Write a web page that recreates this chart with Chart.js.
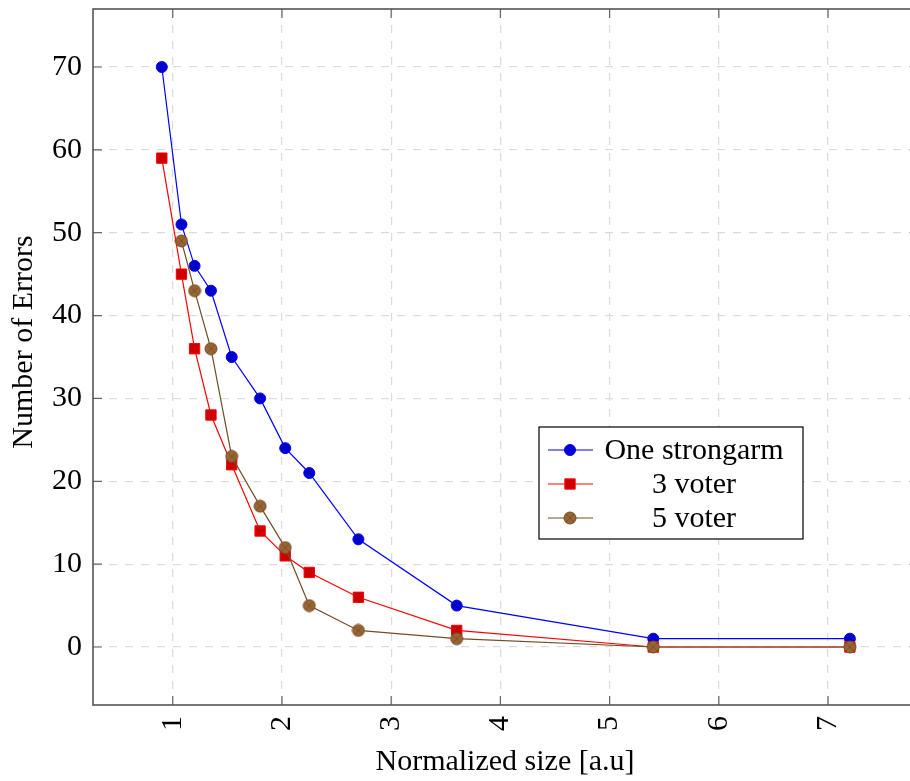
<!DOCTYPE html>
<html>
<head>
<meta charset="utf-8">
<script src="https://cdn.jsdelivr.net/npm/chart.js@4"></script>
<style>
  html, body { margin: 0; padding: 0; background: #fff; overflow: hidden; }
  #wrap { width: 910px; height: 781px; overflow: hidden; }
</style>
</head>
<body>
<div id="wrap"><canvas id="errChart" width="927" height="781"></canvas></div>
<script>
// --- data ---
const xValues = [0.9, 1.08, 1.2, 1.35, 1.54, 1.8, 2.03, 2.25, 2.7, 3.6, 5.4, 7.2];
const strongarm = [70, 51, 46, 43, 35, 30, 24, 21, 13, 5, 1, 1];
const voter3 = [59, 45, 36, 28, 22, 14, 11, 9, 6, 2, 0, 0];
const voter5 = [null, 49, 43, 36, 23, 17, 12, 5, 2, 1, 0, 0];
const xTicks = [1, 2, 3, 4, 5, 6, 7];
const yTicks = [0, 10, 20, 30, 40, 50, 60, 70];
const labels = ['One strongarm', '3 voter', '5 voter'];

const FONT = '"Liberation Serif", "Times New Roman", serif';

// otimes* marker for the brown series
function makeOtimes() {
    const c = document.createElement('canvas');
    c.width = 14; c.height = 14;
    const g = c.getContext('2d');
    g.beginPath();
    g.arc(7, 7, 6, 0, Math.PI * 2);
    g.fillStyle = '#996633';
    g.fill();
    g.lineWidth = 1;
    g.strokeStyle = '#734d26';
    g.stroke();
    const d = 6 * Math.SQRT1_2;
    g.beginPath();
    g.moveTo(7 - d, 7 - d); g.lineTo(7 + d, 7 + d);
    g.moveTo(7 + d, 7 - d); g.lineTo(7 - d, 7 + d);
    g.lineWidth = 0.8;
    g.stroke();
    return c;
}
const otimes = makeOtimes();

const toPoints = ys => xValues.map((x, i) => ({ x: x, y: ys[i] }));

// frame, inner ticks and axis titles
const framePlugin = {
    id: 'frame',
    beforeDatasetsDraw(chart) {
        const { ctx, chartArea: a, scales } = chart;
        ctx.save();
        ctx.strokeStyle = '#666';
        ctx.lineWidth = 1.2;
        ctx.beginPath();
        xTicks.forEach(v => {
            const px = scales.x.getPixelForValue(v);
            ctx.moveTo(px, a.bottom); ctx.lineTo(px, a.bottom - 9);
            ctx.moveTo(px, a.top); ctx.lineTo(px, a.top + 9);
        });
        yTicks.forEach(v => {
            const py = scales.y.getPixelForValue(v);
            ctx.moveTo(a.left, py); ctx.lineTo(a.left + 9, py);
            ctx.moveTo(a.right, py); ctx.lineTo(a.right - 9, py);
        });
        ctx.stroke();
        ctx.strokeStyle = '#555';
        ctx.lineWidth = 1.6;
        ctx.strokeRect(a.left, a.top, a.right - a.left, a.bottom - a.top);
        ctx.restore();
    },
    afterDraw(chart) {
        const { ctx } = chart;
        ctx.save();
        ctx.fillStyle = '#000';
        ctx.font = '30px ' + FONT;
        ctx.textAlign = 'center';
        ctx.textBaseline = 'middle';
        ctx.fillText('Normalized size [a.u]', 505, 762);
        ctx.translate(24, 342);
        ctx.rotate(-Math.PI / 2);
        ctx.fillText('Number of Errors', 0, 0);
        ctx.restore();
    }
};

// legend box inside the plot
const legendPlugin = {
    id: 'boxLegend',
    afterDraw(chart) {
        const ctx = chart.ctx;
        const box = { left: 539, top: 427, right: 803, bottom: 539 };
        const rows = [450, 484, 518];
        ctx.save();
        ctx.fillStyle = '#fff';
        ctx.fillRect(box.left, box.top, box.right - box.left, box.bottom - box.top);
        ctx.strokeStyle = '#000';
        ctx.lineWidth = 1.2;
        ctx.strokeRect(box.left, box.top, box.right - box.left, box.bottom - box.top);
        chart.data.datasets.forEach((ds, i) => {
            const y = rows[i];
            ctx.strokeStyle = ds.borderColor;
            ctx.lineWidth = ds.borderWidth;
            ctx.beginPath();
            ctx.moveTo(548, y); ctx.lineTo(593, y);
            ctx.stroke();
            ctx.fillStyle = ds.pointBackgroundColor;
            ctx.strokeStyle = ds.pointBorderColor;
            ctx.lineWidth = ds.pointBorderWidth;
            Chart.helpers.drawPoint(ctx, { pointStyle: ds.pointStyle, radius: ds.pointRadius, borderWidth: ds.pointBorderWidth, rotation: 0 }, 570, y);
            ctx.fillStyle = '#000';
            ctx.font = '30px ' + FONT;
            ctx.textAlign = 'center';
            ctx.textBaseline = 'middle';
            ctx.fillText(labels[i], 694, y + 1);
        });
        ctx.restore();
    }
};

new Chart(document.getElementById('errChart'), {
    type: 'line',
    data: {
        datasets: [
            { label: labels[0], data: toPoints(strongarm), borderColor: '#0000ff', borderWidth: 1.2,
              pointStyle: 'circle', pointRadius: 5.5, pointBackgroundColor: '#0000cc', pointBorderColor: '#0000ff', pointBorderWidth: 1, order: 3 },
            { label: labels[1], data: toPoints(voter3), borderColor: '#ff0000', borderWidth: 1.2,
              pointStyle: 'rect', pointRadius: 7.3, pointBackgroundColor: '#cc0000', pointBorderColor: '#ff0000', pointBorderWidth: 1, order: 2 },
            { label: labels[2], data: toPoints(voter5), borderColor: '#734d26', borderWidth: 1.2,
              pointStyle: otimes, pointRadius: 6, pointBackgroundColor: '#996633', pointBorderColor: '#734d26', pointBorderWidth: 1, order: 1 }
        ]
    },
    options: {
        responsive: false,
        animation: false,
        layout: { padding: { top: 9, right: 0, left: 0, bottom: 0 } },
        elements: { line: { tension: 0 } },
        plugins: { legend: { display: false }, tooltip: { enabled: false } },
        scales: {
            x: {
                type: 'linear',
                min: 0.27, max: 7.83,
                afterBuildTicks: s => { s.ticks = xTicks.map(v => ({ value: v })); },
                afterFit: s => { s.height = 76; s.paddingLeft = 0; s.paddingRight = 0; },
                ticks: { minRotation: 90, maxRotation: 90, autoSkip: false, padding: 11, color: '#000', font: { family: FONT, size: 30 } },
                grid: { color: '#dadada', lineWidth: 1.2, drawTicks: false },
                border: { display: false, dash: [8, 8] }
            },
            y: {
                min: -7, max: 77,
                afterBuildTicks: s => { s.ticks = yTicks.map(v => ({ value: v })); },
                afterFit: s => { s.width = 93; s.paddingTop = 0; s.paddingBottom = 0; },
                ticks: { padding: 11, color: '#000', font: { family: FONT, size: 30 } },
                grid: { color: '#dadada', lineWidth: 1.2, drawTicks: false },
                border: { display: false, dash: [8, 8] }
            }
        }
    },
    plugins: [framePlugin, legendPlugin]
});
</script>
</body>
</html>
